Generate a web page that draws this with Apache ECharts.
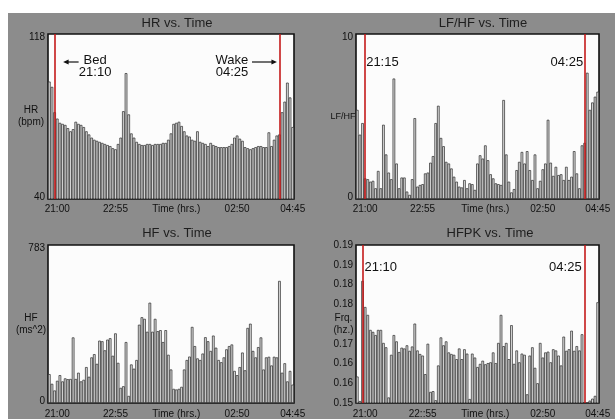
<!DOCTYPE html>
<html><head><meta charset="utf-8">
<script src="https://cdn.jsdelivr.net/npm/echarts@6/dist/echarts.min.js"></script>
<style>
html,body{margin:0;padding:0;background:#fff;}
#wrap{position:relative;width:615px;height:419px;overflow:hidden;background:#fff;}
#bg{position:absolute;left:8px;top:13px;right:0;bottom:0;background:#8c8c8c;}
#chart{position:absolute;left:0;top:0;width:615px;height:419px;}
</style></head>
<body><div id="wrap"><div id="bg"></div><div id="chart"></div></div>
<script>
const FONT = '"Liberation Sans", Arial, Helvetica, sans-serif';

// 5-minute bins starting 21:00
const times = [];
for (let m = 0; m < 93; m++) {
  const t = (21 * 60 + m * 5) % 1440;
  times.push(String(Math.floor(t / 60)).padStart(2, '0') + ':' + String(t % 60).padStart(2, '0'));
}

const hrValues = [95.5,93,81,78,76,75.5,75,73.5,72,73,
  76.5,75.5,75,74,72,70.5,69,68,67.5,67,
  66.5,66,65.5,65,64,63.5,66,69,81.5,99.5,
  80,71,69,67,66,65.5,65.5,66,66,65.5,
  66,66,66,66.5,66.5,68,71,75.5,76,76.5,
  74.5,72,70,69.5,68,67.5,72,67,66.5,66,
  65,66.5,65.5,65,64.5,64.5,64.5,64.5,65,66,
  69,70,68.5,67.5,64.5,64,63.5,64,64.5,65,
  65,64.5,64.5,71.5,65,68,70,70.5,81,86,
  95,88,74];

const lfhfValues = [5.4,3.9,4.6,1.25,1.2,1.05,1.1,0.65,1.7,0.65,
  4.5,2.7,1.6,1.2,7.3,2.15,0.65,1.3,1.3,0.45,
  0.25,1.2,4.9,0.75,0.85,0.9,1.55,1.6,2.2,2.6,
  4.6,5.65,3.7,3.2,2.25,2.15,1.85,1.35,1.05,0.75,
  0.7,1.15,0.65,0.95,0.9,0.55,2.15,2.65,2.45,3.25,
  2.35,1.5,1.25,0.95,0.9,0.85,6.0,2.7,1.05,0.4,
  0.6,1.75,2.25,2.85,2.15,2.9,1.75,1.15,2.7,0.65,
  1.1,1.8,2.15,4.8,2.2,1.4,1.95,1.45,1.5,1.15,
  1.95,1.15,1.35,2.9,1.55,0.65,3.25,3.4,7.65,5.4,
  5.85,6.2,6.5];

const hfValues = [143,95,62,110,138,107,122,118,119,325,
  119,150,107,115,178,130,226,242,194,309,
  306,261,314,321,234,345,199,75,83,302,
  35,191,170,213,388,425,417,353,497,353,
  417,356,361,302,361,239,166,70,67,70,
  80,166,213,230,377,282,221,213,245,326,
  306,258,334,274,213,202,226,266,282,290,
  159,138,178,250,162,372,393,258,226,277,
  325,166,226,229,186,229,226,605,150,197,
  107,159,91];

const hfpkValues = [0.1567,0.1505,0.1809,0.1743,0.1723,0.1685,0.1680,0.1672,0.1685,0.1685,
  0.1652,0.1641,0.1514,0.1622,0.1672,0.1656,0.1629,0.1640,0.1638,0.1646,
  0.1632,0.1643,0.1701,0.1633,0.1624,0.1620,0.1573,0.1650,0.1528,0.1530,
  0.1507,0.1595,0.1666,0.1646,0.1656,0.1628,0.1624,0.1622,0.1611,0.1638,
  0.1611,0.1636,0.1625,0.1510,0.1625,0.1615,0.1591,0.1599,0.1607,0.1598,
  0.1601,0.1603,0.1628,0.1601,0.1652,0.1723,0.1644,0.1652,0.1611,0.1697,
  0.1599,0.1633,0.1603,0.1625,0.1622,0.1522,0.1620,0.1641,0.1589,0.1550,
  0.1652,0.1615,0.1628,0.1630,0.1603,0.1636,0.1633,0.1620,0.1595,0.1668,
  0.1632,0.1636,0.1683,0.1632,0.1644,0.1633,0.1674,0.1500,0.1500,0.1506,
  0.1511,0.1518,0.1755];

const panelTitles = ['HR vs. Time', 'LF/HF vs. Time', 'HF vs. Time', 'HFPK vs. Time'];
const yNames = ['HR\n(bpm)', 'LF/HF', 'HF\n(ms^2)', 'Frq.\n(hz.)'];
const yRanges = [[40, 118], [0, 10], [0, 783], [0.15, 0.19]];
const hfpkTickLabels = ['0.15','0.16','0.16','0.17','','0.18','0.18','0.19','0.19'];
const xTickLabels = ['21:00', '22:55', 'Time (hrs.)', '02:50', '04:45'];
const xTickLabelsHFPK = ['21:00', '22::55', 'Time (hrs.)', '02:50', '04:45'];
// bed / wake markers (category bins where the red lines are drawn)
const bedBins = ['21:10', '21:15', null, '21:10'];
const wakeBin = 87;
const bedLabels = ['21:10', '21:15', null, '21:10'];
const wakeLabel = '04:25';

const seriesValues = [hrValues, lfhfValues, hfValues, hfpkValues];

const grids = [
  {left: 48, top: 34, width: 246, height: 165},
  {left: 356, top: 34, width: 243, height: 165},
  {left: 48, top: 245, width: 246, height: 164},
  {left: 356, top: 245, width: 243, height: 164}
];
const titlePos = [[177, 17], [483, 17], [177, 227], [490, 227]];
const labelBins = [[3,25,48,71,92],[3,25,49,71,92],[3,25,48,71,92],[3,25,49,71,92]];
const nameGaps = [17, 13, 17, 12.5];
const nameSizes = [10, 9, 10, 10];
const xLabelMargins = [5, 5, 6, 6];

const chart = echarts.init(document.getElementById('chart'), null, {renderer: 'canvas'});

const rich = {
  top: {padding: [6, 0, 0, 0], fontSize: 10, color: '#111', fontFamily: FONT},
  bot: {padding: [0, 0, 4, 0], fontSize: 10, color: '#111', fontFamily: FONT}
};

const option = {
  animation: false,
  backgroundColor: 'transparent',
  textStyle: {fontFamily: FONT},
  title: panelTitles.map((t, k) => ({
    text: t, left: titlePos[k][0], top: titlePos[k][1], textAlign: 'center', padding: 0,
    textStyle: {fontSize: 13, fontWeight: 'normal', color: '#1e1e1e', fontFamily: FONT}
  })),
  grid: grids.map(g => Object.assign({show: true, backgroundColor: '#fcfcfc', borderColor: '#111', borderWidth: 1.6, containLabel: false}, g)),
  xAxis: grids.map((g, k) => {
    const texts = k === 3 ? xTickLabelsHFPK : xTickLabels;
    const bins = labelBins[k];
    return {
      type: 'category', gridIndex: k, data: times, boundaryGap: true,
      axisLine: {show: false}, axisTick: {show: false}, splitLine: {show: false},
      axisLabel: {
        interval: (i) => bins.indexOf(i) >= 0,
        formatter: (v, i) => { const j = bins.indexOf(i); return j >= 0 ? texts[j] : ''; },
        fontSize: 10, color: '#111', margin: xLabelMargins[k], fontFamily: FONT
      }
    };
  }),
  yAxis: grids.map((g, k) => {
    const [mn, mx] = yRanges[k];
    const ax = {
      type: 'value', gridIndex: k, min: mn, max: mx,
      axisLine: {show: false}, axisTick: {show: false}, splitLine: {show: false},
      name: yNames[k], nameLocation: 'middle', nameRotate: 0, nameGap: nameGaps[k],
      nameMoveOverlap: false,
      nameTextStyle: {fontSize: nameSizes[k], color: '#111', align: 'center', verticalAlign: 'middle', lineHeight: 12, fontFamily: FONT},
      axisLabel: {fontSize: 10, color: '#111', margin: 3, fontFamily: FONT, rich: rich,
        formatter: (v) => v === mx ? '{top|' + v + '}' : (v === mn ? '{bot|' + v + '}' : '')}
    };
    if (k === 3) {
      ax.interval = 0.005;
      delete ax.axisLabel.rich;
      ax.axisLabel.formatter = (v) => hfpkTickLabels[Math.round((v - 0.15) / 0.005)] || '';
    }
    return ax;
  }),
  series: seriesValues.map((vals, k) => {
    const s = {
      type: 'bar', xAxisIndex: k, yAxisIndex: k, data: vals,
      barCategoryGap: '0%',
      itemStyle: {color: '#d9d9d9', borderColor: '#2a2a2a', borderWidth: 0.7},
      silent: true
    };
    if (bedBins[k]) {
      s.markLine = {
        silent: true, symbol: ['none', 'none'], label: {show: false},
        lineStyle: {color: '#c41a1a', width: 1.6, type: 'solid'},
        data: [{xAxis: bedBins[k]}, {xAxis: times[wakeBin]}]
      };
    }
    return s;
  })
};
chart.setOption(option);

// annotations anchored to the red marker lines
const px = (k, cat) => chart.convertToPixel({xAxisIndex: k}, cat);
const ink = '#111';
const txt = (x, y, text, align) => ({type: 'text', x: x, y: y, z: 10, style: {
  text: text, fontSize: 13, fontFamily: FONT, fill: ink, align: align, verticalAlign: 'middle', lineHeight: 12}});
const g = [];
// HR panel
{
  const bx = px(0, bedBins[0]), wx = px(0, times[wakeBin]);
  g.push(txt(bx + 40.5, 66.5, 'Bed\n' + bedLabels[0], 'center'));
  g.push({type: 'line', z: 10, shape: {x1: bx + 12, y1: 62, x2: bx + 24, y2: 62}, style: {stroke: ink, lineWidth: 1.2}});
  g.push({type: 'polygon', z: 10, shape: {points: [[bx + 8.5, 62], [bx + 14, 59.5], [bx + 14, 64.5]]}, style: {fill: ink}});
  g.push(txt(wx - 47.5, 66.5, 'Wake\n' + wakeLabel, 'center'));
  g.push({type: 'line', z: 10, shape: {x1: wx - 27.5, y1: 62, x2: wx - 7, y2: 62}, style: {stroke: ink, lineWidth: 1.2}});
  g.push({type: 'polygon', z: 10, shape: {points: [[wx - 2.5, 62], [wx - 8, 59.5], [wx - 8, 64.5]]}, style: {fill: ink}});
}
// LF/HF panel
{
  const bx = px(1, bedBins[1]), wx = px(1, times[wakeBin]);
  g.push(txt(bx + 1, 62, bedLabels[1], 'left'));
  g.push(txt(wx - 1.5, 62, wakeLabel, 'right'));
}
// HFPK panel
{
  const bx = px(3, bedBins[3]), wx = px(3, times[wakeBin]);
  g.push(txt(bx + 2, 267, bedLabels[3], 'left'));
  g.push(txt(wx - 3, 267, wakeLabel, 'right'));
}
chart.setOption({graphic: g});
</script></body></html>
